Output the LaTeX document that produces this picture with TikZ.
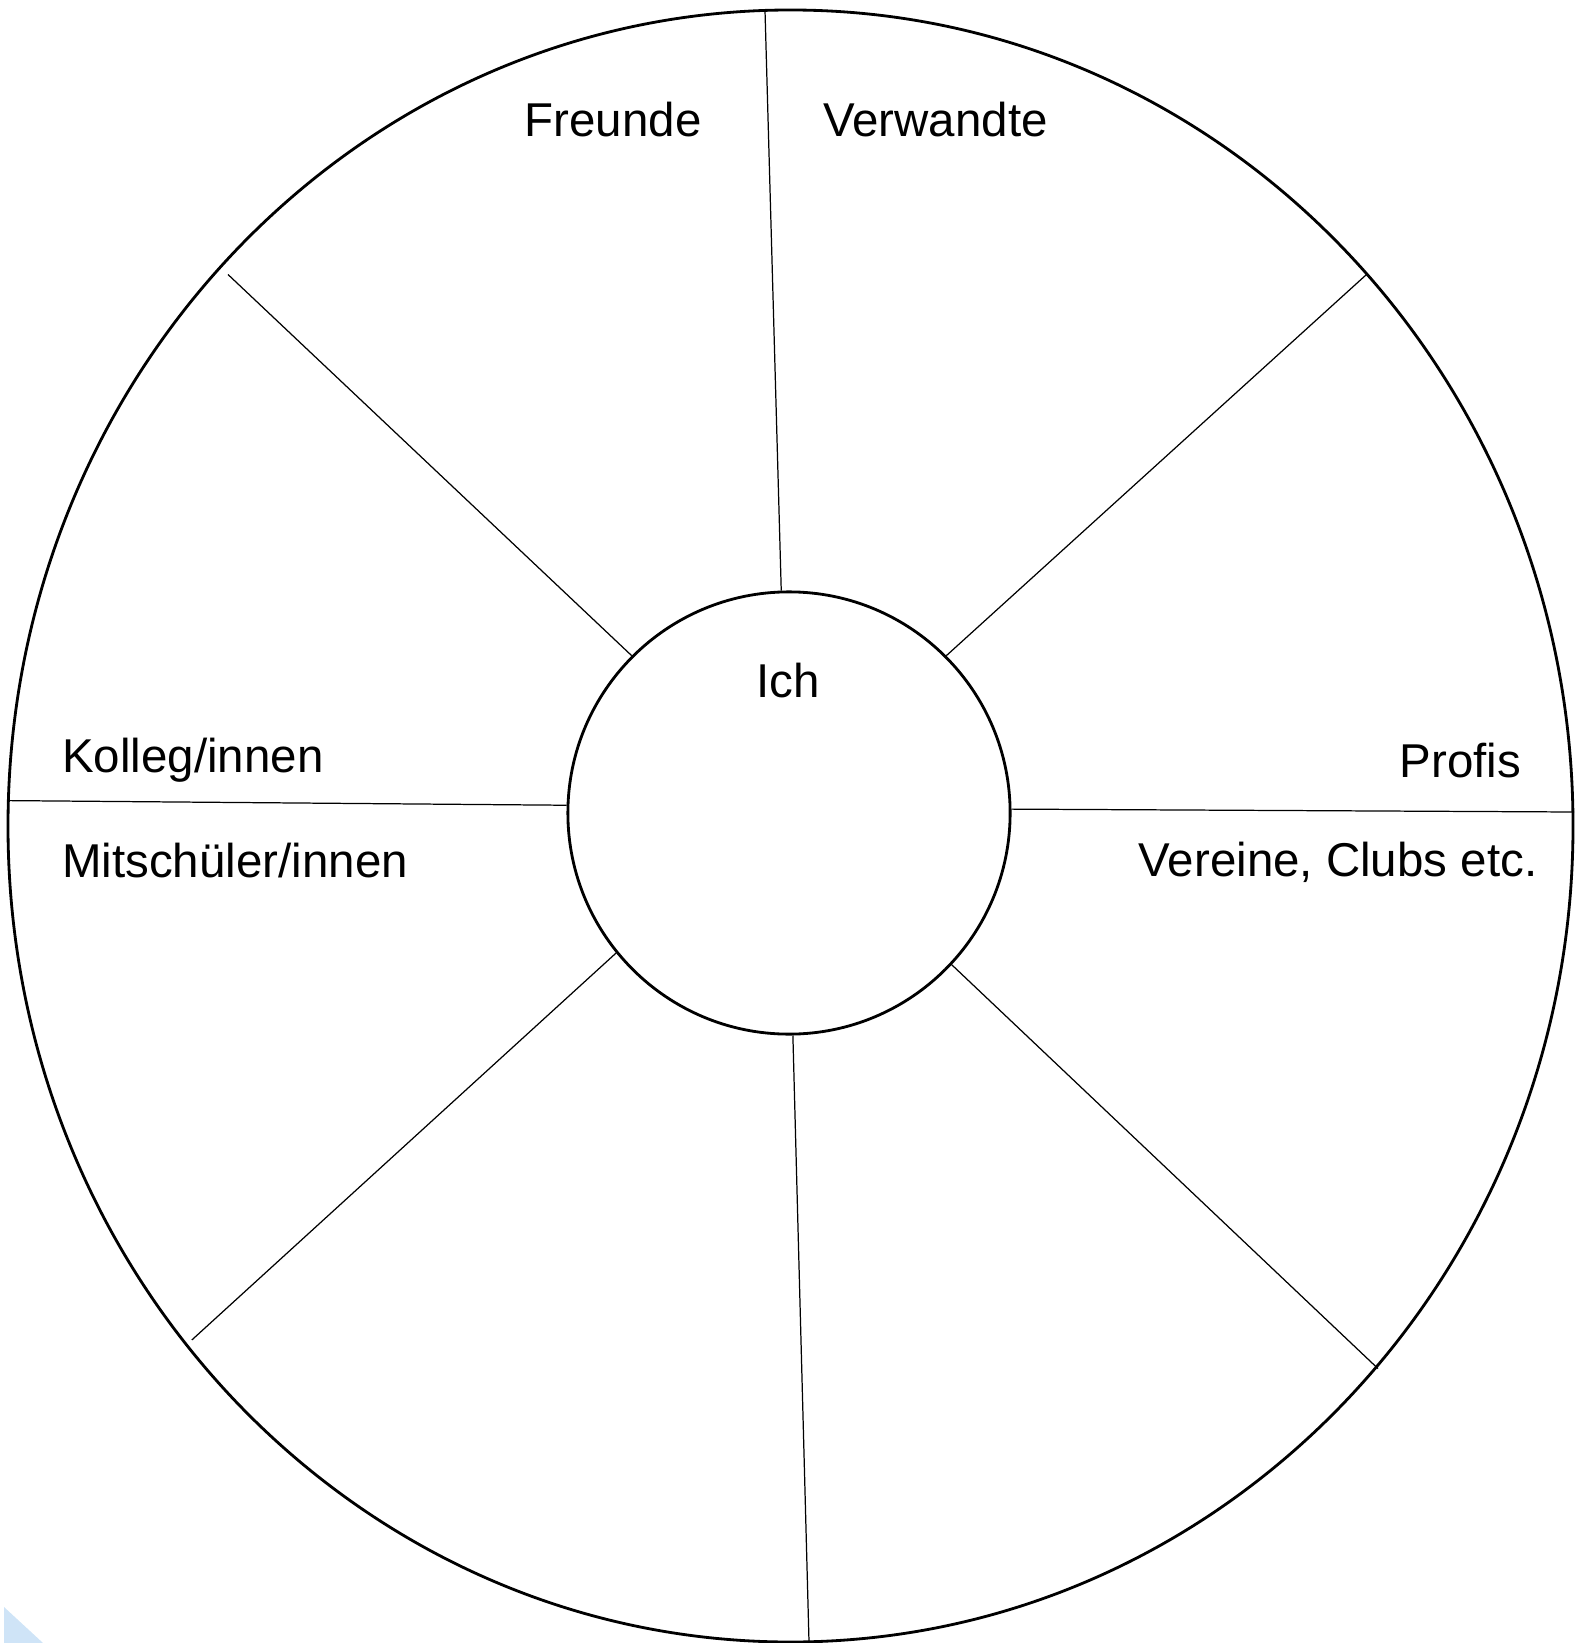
\documentclass[tikz,border=0pt]{standalone}
\usepackage{fontspec}
\setmainfont{Liberation Sans}
\usetikzlibrary{positioning}
\definecolor{cornerblue}{RGB}{207,228,247}

\begin{document}
\begin{tikzpicture}[x=0.01cm,y=-0.01cm,
                    rim/.style={line width=0.8pt},
                    spoke/.style={line width=0.35pt},
                    lbl/.style={font=\fontsize{13.5}{16}\selectfont,inner sep=0pt}]

	\useasboundingbox (0,0) rectangle (1576,1643);
	\fill[cornerblue] (4,1607) -- (4,1643) -- (43,1643) -- cycle;

	% outer ring and the inner circle
	\draw[rim] (790.5,826) ellipse [x radius=782.5, y radius=816];
	\node[circle,draw,rim,minimum size=4.42cm,inner sep=0pt] (ich) at (789,813) {};

	% rim ends of the spokes
	\coordinate (n)  at (765,10.5);
	\coordinate (ne) at (1366.5,274.5);
	\coordinate (e)  at (1574,812);
	\coordinate (se) at (1378,1368.6);
	\coordinate (s)  at (809,1642);
	\coordinate (sw) at (191.8,1340);
	\coordinate (w)  at (8.4,800.6);
	\coordinate (nw) at (228,274.5);

	\draw[spoke] (n)  -- (ich.92.2);
	\draw[spoke] (ne) -- (ich.45);
	\draw[spoke] (e)  -- (ich.1.3);
	\draw[spoke] (se) -- (ich.-43.1);
	\draw[spoke] (s)  -- (ich.-89);
	\draw[spoke] (sw) -- (ich.219.6);
	\draw[spoke] (w)  -- (ich.178);
	\draw[spoke] (nw) -- (ich.135.5);

	% labels
	\node[lbl,anchor=base west] (ichlbl)     at (756,697)     {Ich};
	\node[lbl,anchor=base west] (freunde)    at (524,137)     {Freunde};
	\node[lbl,anchor=base west] (verwandte)  at (822.6,137)   {Verwandte};
	\node[lbl,anchor=base west] (kollegen)   at (61.5,772)    {Kolleg/innen};
	\node[lbl,anchor=base west] (mitschueler) at (61.5,877)   {Mitschüler/innen};
	\node[lbl,anchor=base east] (profis)     at (1521.7,777.7) {Profis};
	\node[lbl,anchor=base east] (vereine)    at (1538,876.7)  {Vereine, Clubs etc.};

\end{tikzpicture}
\end{document}
